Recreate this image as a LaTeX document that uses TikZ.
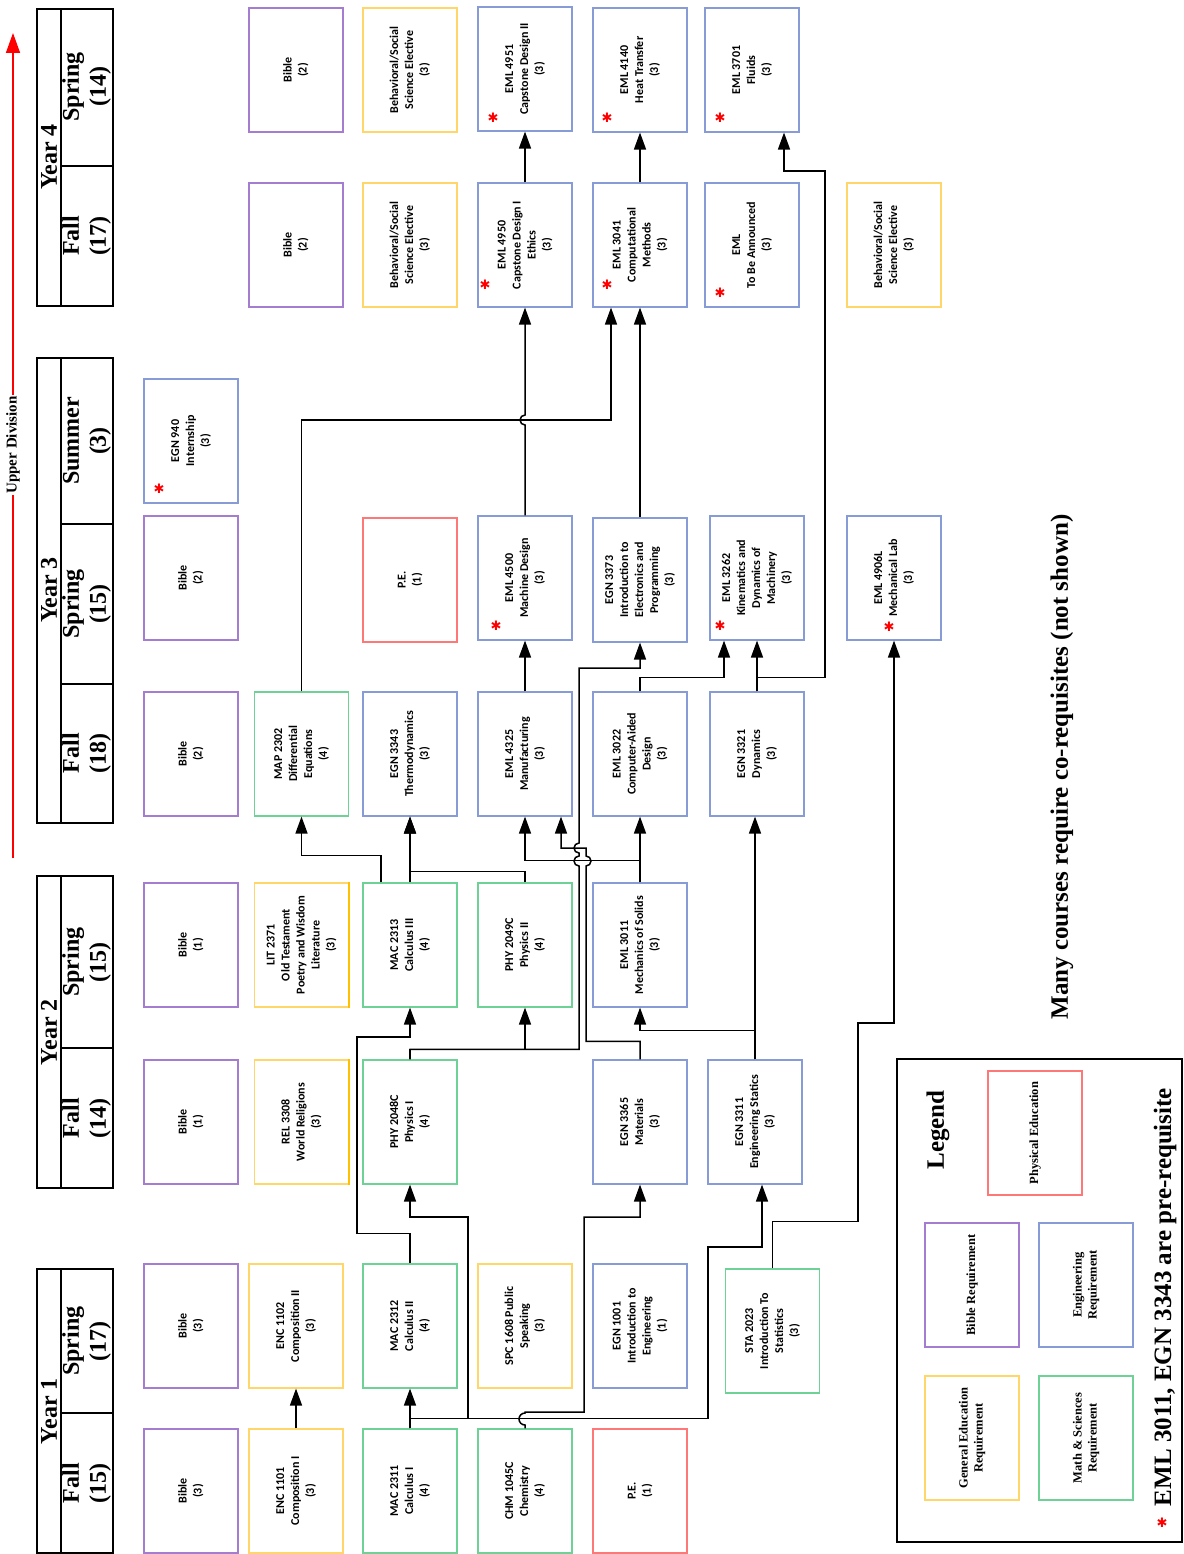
\documentclass[tikz,border=0pt]{standalone}
\usepackage{fontspec}
\setmainfont{Carlito}
\newfontfamily\tnr{Liberation Serif}
\newfontfamily\djv{DejaVu Sans}
\usepackage{graphicx}
\usetikzlibrary{arrows.meta}
\definecolor{biblec}{RGB}{165,125,208}
\definecolor{genc}{RGB}{255,214,105}
\definecolor{goldc}{RGB}{255,192,0}
\definecolor{engc}{RGB}{135,155,214}
\definecolor{mthc}{RGB}{110,210,150}
\definecolor{pec}{RGB}{255,120,120}
\newcommand\rt[1]{\rotatebox{90}{\begin{tabular}{@{}c@{}}#1\end{tabular}}}
\begin{document}
\begin{tikzpicture}[x=1pt,y=-1pt,
  box/.style={draw, line width=1.1pt, minimum width=94pt, minimum height=124pt, inner sep=0pt, font=\bfseries\fontsize{12}{15}\selectfont},
  bib/.style={box, draw=biblec},
  gen/.style={box, draw=genc},
  eng/.style={box, draw=engc},
  mth/.style={box, draw=mthc},
  pe/.style={box, draw=pec},
  lgd/.style={font=\tnr\bfseries\fontsize{12.5}{15}\selectfont},
  conn/.style={line width=1.5pt, -{Triangle[width=12pt,length=17pt]}},
  redast/.style={text=red, font=\djv\fontsize{13}{13}\selectfont, inner sep=0pt},
  hdr/.style={font=\tnr\bfseries\fontsize{24}{27}\selectfont, inner sep=0pt},
  tbl/.style={line width=1.6pt}]
\useasboundingbox (0,0) rectangle (1183,1554);

% ---------- upper division arrow ----------
\coordinate (arrs) at (13,858);
\coordinate (arre) at (13,33);
\draw[red, line width=1.5pt, -{Triangle[width=14pt,length=20pt]}] (arrs) -- (arre);
\node[fill=white, inner sep=1.5pt, font=\tnr\bfseries\fontsize{15}{17}\selectfont] (upperdiv) at (13,445) {\rotatebox{90}{Upper Division}};

% ---------- header tables ----------
\draw[tbl] (37,1269) rectangle (113,1553); \draw[tbl] (61,1269) -- (61,1553); \draw[tbl] (61,1413) -- (113,1413);
\node[hdr] (y1) at (49,1411) {\rotatebox{90}{Year 1}};
\node[hdr] (y1s) at (87,1341) {\rt{Spring\\(17)}};
\node[hdr] (y1f) at (87,1483) {\rt{Fall\\(15)}};

\draw[tbl] (37,876) rectangle (113,1188); \draw[tbl] (61,876) -- (61,1188); \draw[tbl] (61,1048) -- (113,1048);
\node[hdr] (y2) at (49,1032) {\rotatebox{90}{Year 2}};
\node[hdr] (y2s) at (87,962) {\rt{Spring\\(15)}};
\node[hdr] (y2f) at (87,1118) {\rt{Fall\\(14)}};

\draw[tbl] (37,358) rectangle (113,823); \draw[tbl] (61,358) -- (61,823); \draw[tbl] (61,524) -- (113,524); \draw[tbl] (61,684) -- (113,684);
\node[hdr] (y3) at (49,590) {\rotatebox{90}{Year 3}};
\node[hdr] (y3u) at (87,441) {\rt{Summer\\(3)}};
\node[hdr] (y3s) at (87,604) {\rt{Spring\\(15)}};
\node[hdr] (y3f) at (87,753) {\rt{Fall\\(18)}};

\draw[tbl] (37,9) rectangle (113,306); \draw[tbl] (61,9) -- (61,306); \draw[tbl] (61,166) -- (113,166);
\node[hdr] (y4) at (49,157) {\rotatebox{90}{Year 4}};
\node[hdr] (y4s) at (87,87) {\rt{Spring\\(14)}};
\node[hdr] (y4f) at (87,236) {\rt{Fall\\(17)}};

% ---------- column A ----------
\node[bib] (bibA1) at (191,1491) {\rt{Bible\\(3)}};
\node[bib] (bibA2) at (191,1326) {\rt{Bible\\(3)}};
\node[bib] (bibA3) at (191,1122) {\rt{Bible\\(1)}};
\node[bib] (bibA4) at (191,945) {\rt{Bible\\(1)}};
\node[bib] (bibA5) at (191,754) {\rt{Bible\\(2)}};
\node[bib] (bibA6) at (191,578) {\rt{Bible\\(2)}};
\node[eng] (egn940) at (191,441) {\rt{EGN 940\\Internship\\(3)}};

% ---------- column B ----------
\node[gen] (enc1101) at (296,1491) {\rt{ENC 1101\\Composition I\\(3)}};
\node[gen] (enc1102) at (296,1326) {\rt{ENC 1102\\Composition II\\(3)}};
\node[gen] (rel3308) at (301.5,1122) {\rt{REL 3308\\World Religions\\(3)}};
\node[gen] (lit2371) at (301.5,945) {\rt{LIT 2371\\Old Testament\\Poetry and Wisdom\\Literature\\(3)}};
\draw[goldc, line width=2pt] (rel3308.north east) -- (rel3308.south east);
\draw[goldc, line width=2pt] (lit2371.north east) -- (lit2371.south east);
\node[mth] (map2302) at (301.5,754) {\rt{MAP 2302\\Differential\\Equations\\(4)}};
\node[bib] (bibB7) at (296,245) {\rt{Bible\\(2)}};
\node[bib] (bibB8) at (296,70) {\rt{Bible\\(2)}};

% ---------- column C ----------
\node[mth] (mac2311) at (410,1491) {\rt{MAC 2311\\Calculus I\\(4)}};
\node[mth] (mac2312) at (410,1326) {\rt{MAC 2312\\Calculus II\\(4)}};
\node[mth] (phy2048c) at (410,1122) {\rt{PHY 2048C\\Physics I\\(4)}};
\node[mth] (mac2313) at (410,945) {\rt{MAC 2313\\Calculus III\\(4)}};
\node[eng] (egn3343) at (410,754) {\rt{EGN 3343\\Thermodynamics\\(3)}};
\node[pe] (pe2) at (410,580) {\rt{P.E.\\(1)}};
\node[gen] (bhv1) at (410,245) {\rt{Behavioral/Social\\Science Elective\\(3)}};
\node[gen] (bhv2) at (410,70) {\rt{Behavioral/Social\\Science Elective\\(3)}};

% ---------- column D ----------
\node[mth] (chm1045c) at (525,1491) {\rt{CHM 1045C\\Chemistry\\(4)}};
\node[gen] (spc1608) at (525,1326) {\rt{SPC 1608 Public\\Speaking\\(3)}};
\node[mth] (phy2049c) at (525,945) {\rt{PHY 2049C\\Physics II\\(4)}};
\node[eng] (eml4325) at (525,754) {\rt{EML 4325\\Manufacturing\\(3)}};
\node[eng] (eml4500) at (525,578) {\rt{EML 4500\\Machine Design\\(3)}};
\node[eng] (eml4950) at (525,245) {\rt{EML 4950\\Capstone Design I\\Ethics\\(3)}};
\node[eng] (eml4951) at (525,69) {\rt{EML 4951\\Capstone Design II\\(3)}};

% ---------- column E ----------
\node[pe] (pe1) at (640,1491) {\rt{P.E.\\(1)}};
\node[eng] (egn1001) at (640,1326) {\rt{EGN 1001\\Introduction to\\Engineering\\(1)}};
\node[eng] (egn3365) at (640,1122) {\rt{EGN 3365\\Materials\\(3)}};
\node[eng] (eml3011) at (640,945) {\rt{EML 3011\\Mechanics of Solids\\(3)}};
\node[eng] (eml3022) at (640,754) {\rt{EML 3022\\Computer-Aided\\Design\\(3)}};
\node[eng] (egn3373) at (640,580) {\rt{EGN 3373\\Introduction to\\Electronics and\\Programming\\(3)}};
\node[eng] (eml3041) at (640,245) {\rt{EML 3041\\Computational\\Methods\\(3)}};
\node[eng] (eml4140) at (640,70) {\rt{EML 4140\\Heat Transfer\\(3)}};

% ---------- column F ----------
\node[mth] (sta2023) at (772.5,1331) {\rt{STA 2023\\Introduction To\\Statistics\\(3)}};
\node[eng] (egn3311) at (755,1122) {\rt{EGN 3311\\Engineering Statics\\(3)}};
\node[eng] (egn3321) at (757,754) {\rt{EGN 3321\\Dynamics\\(3)}};
\node[eng] (eml3262) at (757,578) {\rt{EML 3262\\Kinematics and\\Dynamics of\\Machinery\\(3)}};
\node[eng] (emltba) at (752,245) {\rt{EML\\To Be Announced\\(3)}};
\node[eng] (eml3701) at (752,70) {\rt{EML 3701\\Fluids\\(3)}};

% ---------- column G ----------
\node[eng] (eml4906l) at (894,578) {\rt{EML 4906L\\Mechanical Lab\\(3)}};
\node[gen] (bhv3) at (894,245) {\rt{Behavioral/Social\\Science Elective\\(3)}};

% ---------- red asterisks ----------
\node[redast] (a1) at (159,489) {✱};
\node[redast] (a2) at (496,626) {✱};
\node[redast] (a3) at (720,626) {✱};
\node[redast] (a4) at (485,285) {✱};
\node[redast] (a5) at (607,285) {✱};
\node[redast] (a6) at (720,293) {✱};
\node[redast] (a7) at (493,118) {✱};
\node[redast] (a8) at (607,118) {✱};
\node[redast] (a9) at (720,118) {✱};
\node[redast] (a10) at (889,627) {✱};

% ---------- connectors ----------
\draw[conn] (enc1101.north) -- (enc1102.south);
\draw[conn] (mac2311.north) -- (mac2312.south);
\draw[conn] (mac2311.north) -- ++(0,-10) -| (708,1247) -| ([xshift=7pt]egn3311.south);
\draw[conn] (mac2311.north) -- ++(0,-10) -| (468,1217) -| (phy2048c.south);
\draw[conn] (mac2312.north) -- ++(0,-30) -| (357,1037) -| (mac2313.south);
\draw[conn] (chm1045c.north) -- (525,1425) arc[start angle=90,end angle=270,radius=6] -- (525,1412) -| (584,1217) -| (egn3365.south);
\draw[conn] (phy2048c.north) -- ++(0,-10) -| (phy2049c.south);
\draw[conn] (phy2048c.north) -- ++(0,-10) -| (579,866) arc[start angle=90,end angle=270,radius=5] -- (579,853) arc[start angle=90,end angle=270,radius=5] -- (579,668) -| (egn3373.south);
\draw[conn] (egn3365.north) -- ++(0,-18) -| (586,866) arc[start angle=90,end angle=-90,radius=5] -- (586,848) -| ([xshift=36pt]eml4325.south);
\draw[conn] (eml3011.north) -- (eml3022.south);
\draw[conn] (eml3011.north) -- ++(0,-22) -| (eml4325.south);
\draw[conn] ([xshift=-29pt]mac2313.north) -- ++(0,-27) -| (map2302.south);
\draw[conn] (mac2313.north) -- (egn3343.south);
\draw[conn] (phy2049c.north) -- ++(0,-11) -| (egn3343.south);
\draw[conn] (eml4325.north) -- (eml4500.south);
\draw[conn] (eml4500.north) -- (525,425) arc[start angle=90,end angle=270,radius=5] -- (eml4950.south);
\draw[conn] (map2302.north) |- (611,420) -- ([xshift=-29pt]eml3041.south);
\draw[conn] (egn3373.north) -- (eml3041.south);
\draw[conn] (eml4950.north) -- (eml4951.south);
\draw[conn] (eml3041.north) -- (eml4140.south);
\draw[conn] (eml3022.north) -- ++(0,-14) -| ([xshift=-33pt]eml3262.south);
\draw[conn] (egn3321.north) -- (eml3262.south);
\draw[conn] (egn3321.north) -- ++(0,-14) -| (825,171) -| ([xshift=32pt]eml3701.south);
\draw[conn] (sta2023.north) -- ++(0,-47) -| (858,1023) -| (eml4906l.south);
\draw[conn] (egn3311.north) -- (egn3311.north |- egn3321.south);
\draw[conn] (egn3311.north) -- ++(0,-29) -| (eml3011.south);

% ---------- notes ----------
\node[font=\tnr\bfseries\fontsize{25}{28}\selectfont] (note1) at (1062,767) {\rotatebox{90}{Many courses require co-requisites (not shown)}};

% ---------- legend ----------
\draw[line width=1.4pt] (897,1059) rectangle (1182,1542);
\node[font=\tnr\bfseries\fontsize{25}{28}\selectfont] (legendtitle) at (938,1130) {\rotatebox{90}{Legend}};
\node[pe, lgd] (lpe) at (1035,1133) {\rt{Physical Education}};
\node[bib, lgd] (lbib) at (972,1285) {\rt{Bible Requirement}};
\node[eng, lgd] (leng) at (1086,1285) {\rt{Engineering\\Requirement}};
\node[gen, lgd] (lgen) at (972,1438) {\rt{General Education\\Requirement}};
\node[mth, lgd] (lmth) at (1086,1438) {\rt{Math \& Sciences\\Requirement}};
\node[redast] (a11) at (1162,1523) {✱};
\node[font=\tnr\bfseries\fontsize{25}{28}\selectfont] (note2) at (1165,1297) {\rotatebox{90}{EML 3011, EGN 3343 are pre-requisite}};
\end{tikzpicture}
\end{document}
